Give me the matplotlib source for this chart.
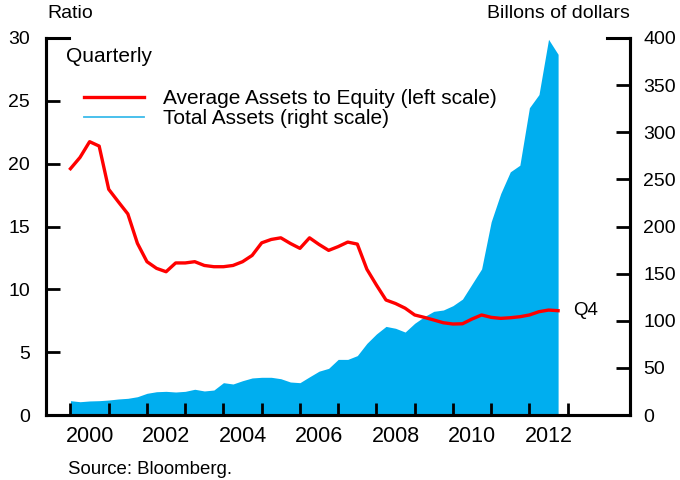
import numpy as np
import matplotlib
matplotlib.use("Agg")
import matplotlib.pyplot as plt
from matplotlib.lines import Line2D

plt.rcParams['font.family'] = ['Liberation Sans', 'DejaVu Sans']

# quarterly observations, first one at the start of 2000
start_year = 2000.0
ratio = [19.6, 20.5, 21.75, 21.4, 17.96, 16.97, 16.0, 13.66,
         12.2, 11.67, 11.4, 12.1, 12.1, 12.2, 11.9, 11.8,
         11.8, 11.9, 12.2, 12.7, 13.7, 13.97, 14.1, 13.65,
         13.26, 14.1, 13.57, 13.1, 13.4, 13.76, 13.6, 11.6,
         10.34, 9.15, 8.87, 8.5, 7.96, 7.77, 7.56, 7.34,
         7.24, 7.26, 7.64, 7.96, 7.77, 7.69, 7.74, 7.82,
         7.96, 8.22, 8.35, 8.3]
assets = [15.2, 14.1, 14.9, 15.2, 15.9, 17.0, 17.7, 19.4,
          23.0, 24.7, 25.1, 24.4, 25.1, 27.3, 25.5, 26.5,
          34.3, 32.9, 36.4, 39.3, 40.0, 40.0, 38.5, 35.0,
          34.3, 40.5, 46.5, 49.5, 59.0, 59.0, 63.0, 76.0,
          86.0, 94.0, 92.0, 88.0, 97.3, 104.3, 110.0, 111.4,
          116.0, 123.0, 139.0, 155.0, 205.0, 235.0, 258.0, 265.0,
          326.0, 340.0, 398.6, 382.7]
dates = start_year + 0.25 * np.arange(len(ratio))

year_ticks = np.arange(2000, 2014)
label_years = [2000, 2002, 2004, 2006, 2008, 2010, 2012]

red = '#FF0000'
blue = '#00AEEF'
fs = 14

fig = plt.figure(figsize=(6.8, 4.8), dpi=100)
ax = fig.add_axes([46 / 680, 1 - 415 / 480, 584 / 680, 377 / 480])
ax2 = ax.twinx()

# area on the right scale, drawn underneath the ratio line
ax2.fill_between(dates, 0, assets, color=blue, linewidth=0)
ax2.set_ylim(0, 400)
ax.set_ylim(0, 30)
ax.set_zorder(ax2.get_zorder() + 1)
ax.patch.set_visible(False)
ax.plot(dates, ratio, color=red, linewidth=2.4)
ax.set_xlim(1999.36, 2014.63)

for a in (ax, ax2):
    a.spines['top'].set_visible(False)
    for s in a.spines.values():
        s.set_linewidth(2.2)

ax.set_xticks(year_ticks)
ax.set_xticklabels([])
ax.set_xticks([y + 0.5 for y in label_years], minor=True)
ax.set_xticklabels([str(y) for y in label_years], minor=True, fontsize=15.5)
ax.tick_params(axis='x', which='major', direction='in', length=9, width=2)
ax.tick_params(axis='x', which='minor', length=0, pad=8)

ax.set_yticks(np.arange(0, 31, 5))
ax.tick_params(axis='y', direction='in', length=10, width=2, labelsize=fs, pad=11.5)
ax2.set_yticks(np.arange(0, 401, 50))
ax2.tick_params(axis='y', direction='in', length=10, width=2, labelsize=fs, pad=9.5)

# longer tick marks at the top of both scales
ax.axhline(30, xmin=0, xmax=0.04, color='black', linewidth=2.2, clip_on=False)
ax.axhline(30, xmin=0.96, xmax=1, color='black', linewidth=2.2, clip_on=False)

fig.text(47 / 680, 1 - 14 / 480, 'Ratio', fontsize=fs, va='center', ha='left')
fig.text(630 / 680, 1 - 14 / 480, 'Billons of dollars', fontsize=fs, va='center', ha='right')
fig.text(66 / 680, 1 - 57 / 480, 'Quarterly', fontsize=15, va='center', ha='left')
fig.text(68 / 680, 1 - 469 / 480, 'Source: Bloomberg.', fontsize=13.4, va='center', ha='left')

ax.annotate('Q4', xy=(dates[-1], ratio[-1]), xytext=(11, 0), textcoords='offset points',
            fontsize=13.5, va='center', ha='left')

handles = [Line2D([], [], color=red, linewidth=2.4),
           Line2D([], [], color='#3CBBEA', linewidth=1.3)]
labels = ['Average Assets to Equity (left scale)', 'Total Assets (right scale)']
ax.legend(handles, labels, loc='upper left', bbox_to_anchor=(84 / 680, 1 - 89 / 480),
          bbox_transform=fig.transFigure, frameon=False, fontsize=15,
          handlelength=2.9, handletextpad=0.9, labelspacing=0.05,
          borderpad=0, borderaxespad=0)

fig.savefig('out.png', dpi=100)
